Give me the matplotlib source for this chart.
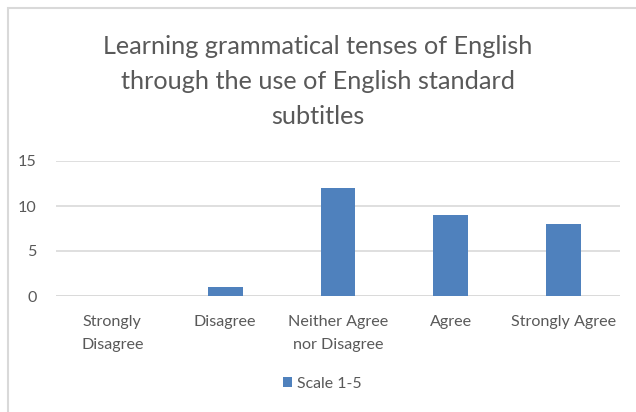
import matplotlib
matplotlib.use("Agg")
import matplotlib.pyplot as plt
from matplotlib.patches import Rectangle

categories = ["Strongly\nDisagree", "Disagree", "Neither Agree\nnor Disagree", "Agree", "Strongly Agree"]
values = [0, 1, 12, 9, 8]
series_name = "Scale 1-5"
yticks = [0, 5, 10, 15]
title = "Learning grammatical tenses of English\nthrough the use of English standard\nsubtitles"

plt.rcParams['font.family'] = ['Lato', 'DejaVu Sans']
txt = '#595959'
bar_color = '#4F81BD'

fig = plt.figure(figsize=(6.36, 4.12), dpi=100)
fig.patches.append(Rectangle((8/636, -0.1), 1.2, 1.1 - 8/412, transform=fig.transFigure,
                             fill=False, edgecolor='#D9D9D9', linewidth=1.5))

ax = fig.add_axes([56/636, (412-296)/412, (620-56)/636, (296-161)/412])
x = list(range(len(categories)))
ax.bar(x, values, width=0.31, color=bar_color, label=series_name, zorder=3)
ax.set_xlim(-0.5, len(categories) - 0.5)
ax.set_ylim(0, 15)
ax.set_yticks(yticks)
ax.yaxis.grid(True, color='#D9D9D9', linewidth=1.2, zorder=0)
for s in ax.spines.values():
    s.set_visible(False)
ax.axhline(0, color='#D9D9D9', linewidth=1.2, zorder=1)
ax.tick_params(axis='both', length=0, colors=txt, labelsize=11.6)
ax.tick_params(axis='y', pad=14)
ax.tick_params(axis='x', pad=14)
ax.set_xticks(x)
ax.set_xticklabels(categories, linespacing=1.8)
for lab in ax.get_xticklabels() + ax.get_yticklabels():
    lab.set_color(txt)

fig.text(0.5, 1 - 35/412, title, ha='center', va='top', fontsize=18.2, color=txt, linespacing=1.63)

leg = fig.legend(loc='center', bbox_to_anchor=(322/636, 1 - 384/412), frameon=False,
                 fontsize=11.4, handlelength=0.6, handleheight=0.6, handletextpad=0.3)
for t in leg.get_texts():
    t.set_color(txt)

fig.savefig("out.png", dpi=100)
